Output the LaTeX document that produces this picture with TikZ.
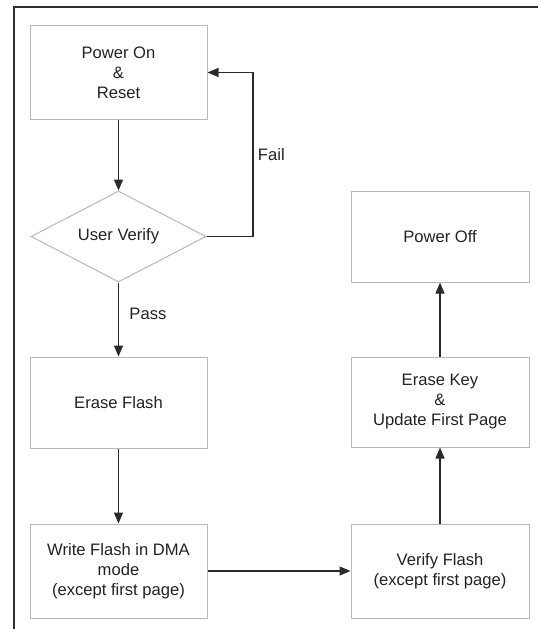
\documentclass[tikz,border=0pt]{standalone}
\usepackage{fontspec}
\setmainfont{Liberation Sans}
\usetikzlibrary{arrows.meta,shapes.geometric}
\definecolor{boxline}{HTML}{B8B8B8}
\definecolor{arrowc}{HTML}{2A2A2A}
\definecolor{textc}{HTML}{222222}
\definecolor{framec}{HTML}{303030}
\begin{document}
\begin{tikzpicture}[x=1pt,y=-1pt,
  every node/.style={font=\fontsize{16.6}{20}\selectfont, text=textc},
  procbox/.style={draw=boxline, line width=1pt, rectangle, align=center, minimum width=177pt, inner sep=0pt},
  decbox/.style={draw=boxline, line width=1pt, diamond, aspect=1.9, minimum width=175pt, minimum height=91pt, inner sep=0pt},
  flow/.style={draw=arrowc, line width=1.3pt, -{Triangle[length=11pt,width=9pt]}},
  lbl/.style={font=\fontsize{16.6}{20}\selectfont}
]
\useasboundingbox (0,0) rectangle (538,629);
% frame
\draw[framec, line width=2.6pt] (14,629) -- (14,7) -- (538,7);

\node[procbox, minimum height=93.5pt] (pon) at (118.5,72.5) {Power On\\\&\\Reset};
\node[decbox] (uv) at (118.5,236.5) {User Verify};
\node[procbox, minimum height=91pt] (ef) at (118.5,402.5) {Erase Flash};
\node[procbox, minimum height=94pt] (wf) at (118.5,571) {Write Flash in DMA\\mode\\(except first page)};
\node[procbox, minimum width=178pt, minimum height=94pt] (vf) at (440,571) {Verify Flash\\(except first page)};
\node[procbox, minimum width=178pt, minimum height=90pt] (ek) at (440,402) {Erase Key\\\&\\Update First Page};
\node[procbox, minimum width=178pt, minimum height=91pt] (poff) at (440,236.5) {Power Off};

\coordinate (fr) at (253,236.5);
\draw[flow] (pon.south) -- (uv.north);
\draw[flow] (uv.east) -- (fr) |- node[pos=0.25, right, lbl, xshift=1pt] (fail) {Fail} (pon.east);
\draw[flow] (uv.south) -- node[pos=0.42, right, lbl, xshift=7pt] (pass) {Pass} (ef.north);
\draw[flow] (ef.south) -- (wf.north);
\draw[flow] (wf.east) -- (vf.west);
\draw[flow] (vf.north) -- (ek.south);
\draw[flow] (ek.north) -- (poff.south);
\end{tikzpicture}
\end{document}
